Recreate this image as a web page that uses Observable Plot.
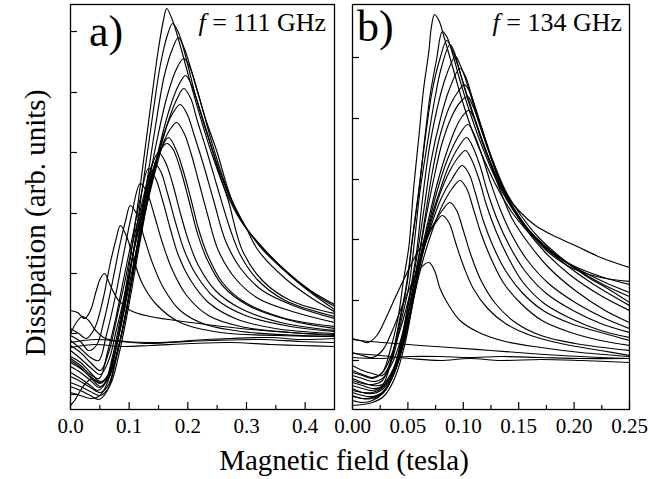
<!DOCTYPE html>
<html>
<head>
<meta charset="utf-8">
<script src="https://cdn.jsdelivr.net/npm/d3@7"></script>
<script src="https://cdn.jsdelivr.net/npm/@observablehq/plot@0.6"></script>
<style>
  html, body { margin: 0; padding: 0; background: #fff; }
  #wrap { position: relative; width: 650px; height: 479px; overflow: hidden; background: #fff; }
  #wrap > svg { position: absolute; top: 0; }
  #overlay { left: 0; pointer-events: none; }
</style>
</head>
<body>
<div id="wrap"></div>
<script>
// ---------- data (field in tesla, dissipation in arbitrary units) ----------
const labelA = "111 GHz";
const labelB = "134 GHz";
const fieldTicksA = [0, 0.1, 0.2, 0.3, 0.4];
const fieldMinorA = [0.05, 0.15, 0.25, 0.35];
const fieldTicksB = [0, 0.05, 0.10, 0.15, 0.20, 0.25];
const fieldMinorB = [0.025, 0.075, 0.125, 0.175, 0.225];
const dissTicksA = [15, 76, 136, 196, 257, 317, 378];
const dissTicksB = [49, 109, 170, 230, 291, 352];

// panel a) f = 111 GHz : each curve is a list of [field, dissipation]
const curvesA = [
  [[0,37],[0.017,31],[0.034,24],[0.046,19],[0.058,25],[0.070,49],[0.085,91],[0.102,151],[0.119,224],[0.136,301],[0.150,361],[0.159,391],[0.164,401],[0.174,389],[0.187,364],[0.201,334],[0.218,299],[0.239,259],[0.264,219],[0.290,189],[0.324,164],[0.366,139],[0.409,119],[0.450,105]],
  [[0,43],[0.017,37],[0.034,29],[0.049,22],[0.061,29],[0.073,53],[0.089,93],[0.106,153],[0.123,223],[0.140,294],[0.153,344],[0.165,374],[0.174,386],[0.184,377],[0.198,349],[0.213,314],[0.242,259],[0.268,217],[0.293,187],[0.327,162],[0.370,137],[0.412,117],[0.450,103]],
  [[0,33],[0.017,28],[0.034,22],[0.051,17],[0.065,25],[0.078,53],[0.094,94],[0.111,154],[0.128,219],[0.145,284],[0.160,334],[0.174,361],[0.184,372],[0.194,361],[0.206,339],[0.222,307],[0.245,259],[0.271,214],[0.297,184],[0.329,159],[0.372,135],[0.414,115],[0.450,100]],
  [[0,49],[0.017,42],[0.034,32],[0.051,23],[0.065,31],[0.080,59],[0.097,104],[0.114,161],[0.131,219],[0.148,271],[0.165,314],[0.181,341],[0.193,351],[0.203,343],[0.215,321],[0.230,291],[0.249,259],[0.274,211],[0.300,181],[0.320,159],[0.366,131],[0.412,111],[0.450,98]],
  [[0,27],[0.017,23],[0.034,18],[0.051,14],[0.068,25],[0.084,59],[0.101,109],[0.118,166],[0.135,219],[0.152,264],[0.169,301],[0.184,324],[0.196,334],[0.206,325],[0.220,301],[0.237,269],[0.252,239],[0.269,209],[0.293,159],[0.327,129],[0.375,109],[0.450,96]],
  [[0,53],[0.017,47],[0.034,37],[0.051,28],[0.068,37],[0.084,67],[0.099,111],[0.116,164],[0.133,214],[0.150,254],[0.167,289],[0.181,310],[0.193,321],[0.205,311],[0.216,289],[0.232,259],[0.252,219],[0.273,179],[0.290,154],[0.320,129],[0.366,109],[0.450,93]],
  [[0,23],[0.017,19],[0.034,14],[0.048,10],[0.063,19],[0.078,51],[0.094,97],[0.111,154],[0.128,204],[0.145,246],[0.160,277],[0.174,296],[0.187,305],[0.199,295],[0.211,274],[0.227,244],[0.244,209],[0.264,169],[0.290,141],[0.327,119],[0.384,103],[0.450,91]],
  [[0,47],[0.017,41],[0.034,33],[0.051,26],[0.066,37],[0.080,67],[0.095,109],[0.112,159],[0.130,204],[0.147,244],[0.160,269],[0.172,282],[0.181,287],[0.193,277],[0.205,257],[0.218,229],[0.234,194],[0.252,159],[0.281,131],[0.320,111],[0.384,97],[0.450,87]],
  [[0,59],[0.017,51],[0.034,42],[0.051,35],[0.065,49],[0.078,79],[0.094,119],[0.109,161],[0.126,204],[0.141,239],[0.155,261],[0.167,272],[0.179,261],[0.191,241],[0.205,211],[0.218,181],[0.234,154],[0.259,127],[0.298,107],[0.366,91],[0.450,83]],
  [[0,64],[0.017,57],[0.034,47],[0.051,39],[0.065,57],[0.078,89],[0.092,126],[0.107,169],[0.123,209],[0.136,239],[0.150,257],[0.162,247],[0.174,226],[0.187,197],[0.201,169],[0.218,144],[0.247,119],[0.290,101],[0.358,87],[0.450,79]],
  [[0,51],[0.017,44],[0.034,35],[0.049,31],[0.063,57],[0.077,91],[0.090,129],[0.106,174],[0.119,211],[0.133,241],[0.145,231],[0.157,209],[0.170,181],[0.184,154],[0.205,129],[0.235,107],[0.281,91],[0.349,81],[0.450,76]],
  [[0,69],[0.017,61],[0.034,52],[0.048,49],[0.061,74],[0.075,109],[0.089,151],[0.104,194],[0.119,226],[0.131,216],[0.143,194],[0.157,166],[0.174,139],[0.198,114],[0.235,94],[0.290,83],[0.375,77],[0.450,74]],
  [[0,74],[0.017,68],[0.031,59],[0.044,64],[0.058,91],[0.072,129],[0.085,167],[0.094,189],[0.102,204],[0.114,194],[0.126,171],[0.140,146],[0.159,121],[0.187,99],[0.230,85],[0.307,77],[0.450,73]],
  [[0,81],[0.014,76],[0.027,71],[0.041,81],[0.055,109],[0.068,147],[0.078,171],[0.085,184],[0.097,171],[0.109,147],[0.124,124],[0.148,104],[0.187,87],[0.256,77],[0.358,74],[0.450,73]],
  [[0,99],[0.012,97],[0.024,91],[0.034,99],[0.044,119],[0.051,131],[0.058,136],[0.068,124],[0.082,109],[0.102,99],[0.136,93],[0.205,87],[0.290,81],[0.375,77],[0.450,75]],
  [[0,76],[0.010,87],[0.020,93],[0.031,89],[0.043,79],[0.060,71],[0.094,68],[0.153,67],[0.239,69],[0.324,70],[0.392,68],[0.450,67]],
  [[0,67],[0.043,70],[0.085,68],[0.136,66],[0.205,69],[0.273,71],[0.341,72],[0.392,70],[0.450,71]],
  [[0,62],[0.043,65],[0.085,63],[0.136,64],[0.205,66],[0.273,67],[0.341,65],[0.392,64],[0.450,63]],
  [[0,4],[0.007,9],[0.017,19],[0.027,27],[0.037,31],[0.051,27],[0.065,34],[0.078,64],[0.092,109],[0.107,157],[0.123,201],[0.140,239],[0.153,259],[0.164,266],[0.174,261],[0.187,241],[0.201,211],[0.216,177],[0.232,151],[0.259,124],[0.303,104],[0.375,89],[0.450,81]],
  [[0,17],[0.017,14],[0.034,11],[0.048,13],[0.061,24],[0.075,54],[0.089,97],[0.104,147],[0.119,194],[0.133,229],[0.141,247],[0.153,239],[0.165,217],[0.179,187],[0.194,159],[0.215,134],[0.247,111],[0.298,94],[0.375,83],[0.450,78]]
];

// panel b) f = 134 GHz
const curvesB = [
  [[0,37],[0.009,34],[0.018,31],[0.027,37],[0.034,59],[0.041,91],[0.046,129],[0.051,164],[0.055,219],[0.060,274],[0.064,319],[0.069,359],[0.071,381],[0.074,395],[0.078,389],[0.083,371],[0.090,344],[0.099,309],[0.108,279],[0.119,249],[0.132,219],[0.144,197],[0.159,177],[0.177,157],[0.199,141],[0.224,132],[0.250,128]],
  [[0,24],[0.009,21],[0.018,19],[0.027,24],[0.035,49],[0.042,84],[0.049,124],[0.054,169],[0.060,219],[0.065,269],[0.070,314],[0.076,351],[0.081,378],[0.085,373],[0.090,357],[0.097,329],[0.106,297],[0.117,263],[0.130,229],[0.144,201],[0.159,179],[0.177,159],[0.199,144],[0.224,133],[0.250,125]],
  [[0,44],[0.009,39],[0.018,36],[0.027,34],[0.036,51],[0.043,84],[0.051,124],[0.056,169],[0.061,219],[0.068,269],[0.074,309],[0.080,341],[0.088,365],[0.092,357],[0.097,337],[0.105,309],[0.114,279],[0.125,246],[0.137,216],[0.150,193],[0.165,172],[0.183,154],[0.206,139],[0.228,127],[0.250,117]],
  [[0,14],[0.009,11],[0.018,12],[0.027,17],[0.036,34],[0.044,69],[0.051,111],[0.058,159],[0.063,209],[0.069,259],[0.076,299],[0.084,332],[0.093,353],[0.097,345],[0.104,324],[0.112,294],[0.122,261],[0.134,227],[0.147,199],[0.162,176],[0.181,157],[0.204,139],[0.228,124],[0.250,113]],
  [[0,31],[0.009,27],[0.018,24],[0.027,25],[0.037,41],[0.045,74],[0.052,114],[0.059,159],[0.065,204],[0.071,249],[0.079,289],[0.087,319],[0.097,341],[0.102,333],[0.108,312],[0.116,284],[0.126,251],[0.138,219],[0.152,194],[0.168,172],[0.188,152],[0.210,134],[0.233,119],[0.250,107]],
  [[0,9],[0.009,7],[0.018,9],[0.028,17],[0.038,37],[0.046,71],[0.053,111],[0.060,154],[0.066,196],[0.072,237],[0.079,274],[0.088,304],[0.096,319],[0.101,325],[0.106,317],[0.112,297],[0.120,269],[0.129,239],[0.141,209],[0.153,187],[0.170,166],[0.190,147],[0.215,127],[0.250,104]],
  [[0,21],[0.009,17],[0.018,16],[0.028,21],[0.038,41],[0.046,74],[0.053,113],[0.060,154],[0.067,196],[0.074,234],[0.081,267],[0.090,294],[0.097,307],[0.104,313],[0.108,305],[0.115,286],[0.123,259],[0.132,231],[0.143,204],[0.156,181],[0.174,157],[0.197,134],[0.224,114],[0.250,99]],
  [[0,4],[0.009,5],[0.018,7],[0.028,13],[0.038,31],[0.047,64],[0.054,104],[0.060,147],[0.068,187],[0.076,224],[0.084,254],[0.093,281],[0.099,293],[0.105,299],[0.110,291],[0.116,271],[0.125,244],[0.134,217],[0.144,191],[0.159,166],[0.177,142],[0.201,119],[0.228,99],[0.250,87]],
  [[0,27],[0.009,24],[0.018,21],[0.028,24],[0.038,41],[0.047,71],[0.054,109],[0.061,149],[0.069,187],[0.077,221],[0.086,251],[0.096,274],[0.104,285],[0.109,277],[0.116,257],[0.124,229],[0.133,201],[0.144,174],[0.158,149],[0.177,126],[0.201,107],[0.228,91],[0.250,81]],
  [[0,13],[0.009,11],[0.018,11],[0.028,17],[0.038,37],[0.047,69],[0.055,109],[0.062,149],[0.070,184],[0.079,216],[0.088,239],[0.096,253],[0.102,259],[0.107,251],[0.114,231],[0.121,204],[0.130,177],[0.141,151],[0.154,127],[0.173,106],[0.197,91],[0.224,79],[0.250,72]],
  [[0,19],[0.009,17],[0.018,17],[0.028,23],[0.038,43],[0.047,74],[0.055,111],[0.063,147],[0.072,179],[0.081,204],[0.090,221],[0.097,229],[0.103,221],[0.109,201],[0.116,176],[0.125,151],[0.136,127],[0.152,106],[0.171,89],[0.197,77],[0.224,69],[0.250,64]],
  [[0,39],[0.009,35],[0.018,32],[0.027,37],[0.036,57],[0.045,87],[0.054,124],[0.063,157],[0.072,183],[0.081,199],[0.088,207],[0.094,199],[0.100,179],[0.107,154],[0.116,129],[0.129,106],[0.147,87],[0.170,74],[0.201,66],[0.250,59]],
  [[0,71],[0.007,69],[0.014,67],[0.022,74],[0.030,91],[0.039,113],[0.048,134],[0.057,154],[0.066,171],[0.074,185],[0.081,194],[0.087,187],[0.093,167],[0.100,144],[0.109,121],[0.122,101],[0.138,86],[0.161,74],[0.188,66],[0.224,59],[0.250,54]],
  [[0,57],[0.009,54],[0.018,52],[0.027,59],[0.036,79],[0.045,104],[0.054,127],[0.061,141],[0.069,147],[0.074,139],[0.079,121],[0.087,104],[0.097,89],[0.114,77],[0.138,68],[0.170,62],[0.206,57],[0.250,53]],
  [[0,70],[0.016,68],[0.039,66],[0.061,64],[0.088,62],[0.125,59],[0.161,56],[0.206,53],[0.250,51]],
  [[0,56],[0.025,54],[0.052,51],[0.079,49],[0.106,51],[0.134,49],[0.170,50],[0.206,49],[0.250,47]],
  [[0,52],[0.025,51],[0.052,53],[0.079,53],[0.106,52],[0.134,53],[0.170,52],[0.206,51],[0.250,51]],
  [[0,17],[0.009,14],[0.018,13],[0.028,18],[0.038,38],[0.047,71],[0.054,109],[0.061,147],[0.069,184],[0.078,216],[0.087,244],[0.096,263],[0.103,272],[0.108,264],[0.115,244],[0.122,217],[0.131,189],[0.142,163],[0.156,138],[0.175,116],[0.199,99],[0.224,86],[0.250,77]],
  [[0,29],[0.009,26],[0.018,25],[0.027,29],[0.035,51],[0.042,87],[0.049,127],[0.054,171],[0.060,221],[0.066,274],[0.072,319],[0.079,351],[0.085,369],[0.089,362],[0.096,341],[0.103,314],[0.112,284],[0.123,251],[0.135,221],[0.150,199],[0.165,184],[0.183,173],[0.201,164],[0.224,152],[0.250,142]],
  [[0,34],[0.009,31],[0.018,28],[0.027,31],[0.037,49],[0.046,79],[0.054,114],[0.062,151],[0.071,184],[0.080,211],[0.090,231],[0.099,244],[0.105,236],[0.111,216],[0.118,189],[0.127,163],[0.138,139],[0.153,117],[0.172,99],[0.197,86],[0.224,77],[0.250,69]]
];

// ---------- layout ----------
const FONT = "'Liberation Serif', 'Times New Roman', serif";
const H = 479, M_TOP = 4, M_BOTTOM = 70;
const FRAME_H = H - M_TOP - M_BOTTOM;

function rows(curves) {
  const out = [];
  curves.forEach((c, i) => c.forEach(([b, d]) => out.push({curve: i, field: b, diss: d})));
  return out;
}

function panel({curves, width, left, right, xDomain, ticks, minor, yTicks, fmt}) {
  const frameW = width - left - right;
  return Plot.plot({
    width, height: H,
    marginLeft: left, marginRight: right, marginTop: M_TOP, marginBottom: M_BOTTOM,
    x: {domain: xDomain, axis: null},
    y: {domain: [0, FRAME_H], axis: null},
    style: {fontFamily: FONT, fontSize: "21px", color: "#000", background: "transparent", overflow: "visible"},
    marks: [
      Plot.line(rows(curves), {x: "field", y: "diss", z: "curve", stroke: "#000", strokeWidth: 1.15, curve: "catmull-rom", clip: true}),
      Plot.tickX(ticks, {x: d => d, stroke: "#000", strokeWidth: 1.2, insetTop: FRAME_H - 7}),
      Plot.tickX(minor, {x: d => d, stroke: "#000", strokeWidth: 1.2, insetTop: FRAME_H - 4}),
      Plot.tickY(yTicks, {y: d => d, stroke: "#000", strokeWidth: 1.2, insetRight: frameW - 7}),
      Plot.axisX(ticks, {tickSize: 0, tickPadding: 9, tickFormat: fmt, fontSize: 21, fill: "#000", label: null}),
      Plot.frame({stroke: "#000", strokeWidth: 1.3})
    ]
  });
}

const wrap = document.getElementById("wrap");
const pa = panel({curves: curvesA, width: 340, left: 70, right: 6, xDomain: [0, 0.45],
  ticks: fieldTicksA, minor: fieldMinorA, yTicks: dissTicksA, fmt: d3.format(".1f")});
pa.style.left = "0px";
wrap.appendChild(pa);
const pb = panel({curves: curvesB, width: 310, left: 12, right: 21, xDomain: [0, 0.25],
  ticks: fieldTicksB, minor: fieldMinorB, yTicks: dissTicksB, fmt: d3.format(".2f")});
pb.style.left = "340px";
wrap.appendChild(pb);

// ---------- text overlay ----------
const NS = "http://www.w3.org/2000/svg";
const ov = document.createElementNS(NS, "svg");
ov.setAttribute("id", "overlay");
ov.setAttribute("width", 650); ov.setAttribute("height", H);
ov.style.fontFamily = FONT;
wrap.appendChild(ov);
function txt(x, y, parts, size, anchor, transform) {
  const t = document.createElementNS(NS, "text");
  t.setAttribute("x", x); t.setAttribute("y", y);
  t.setAttribute("font-size", size);
  t.setAttribute("text-anchor", anchor || "start");
  if (transform) t.setAttribute("transform", transform);
  for (const [s, italic] of parts) {
    const sp = document.createElementNS(NS, "tspan");
    if (italic) sp.setAttribute("font-style", "italic");
    sp.textContent = s;
    t.appendChild(sp);
  }
  ov.appendChild(t);
}
txt(89, 46, [["a)"]], 44);
txt(357, 41, [["b)"]], 44);
txt(326, 31, [["f", true], [" = " + labelA]], 26, "end");
txt(622, 31, [["f", true], [" = " + labelB]], 26, "end");
txt(344, 470, [["Magnetic field (tesla)"]], 29, "middle");
txt(0, 0, [["Dissipation (arb. units)"]], 29, "middle", "translate(45,223) rotate(-90)");
</script>
</body>
</html>
